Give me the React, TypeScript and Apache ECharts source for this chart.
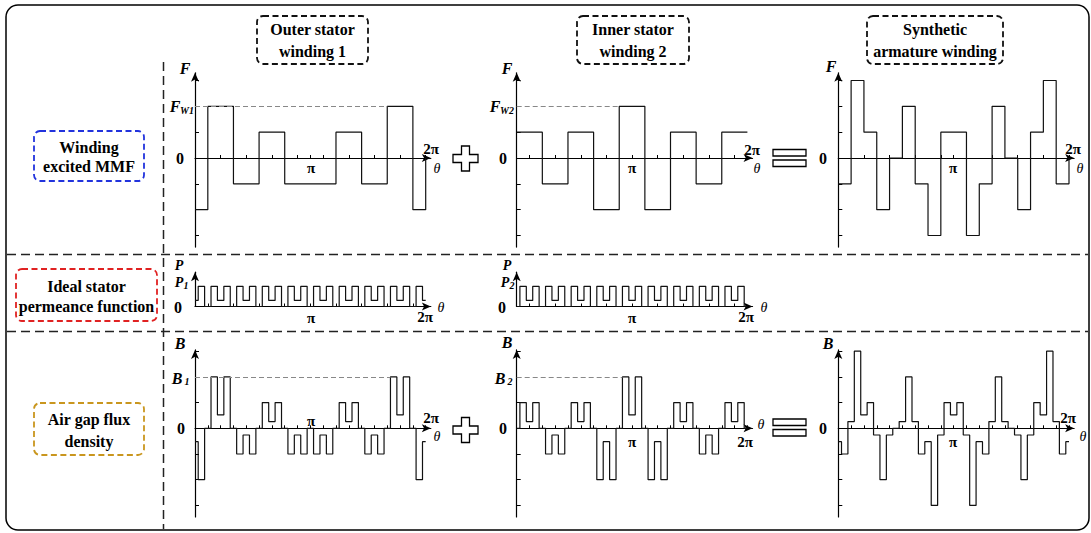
import React, { useEffect, useRef } from "react";
import * as echarts from "echarts";

// ---------- data (angles in degrees, levels in per-unit) ----------
const F1_EDGES = [0, 20, 60, 100, 140, 220, 260, 300, 340, 360];
const F1_LEVELS = [-2, 2, -1, 1, -1, 1, -1, 2, -2];
const F2_EDGES = [0, 40, 80, 120, 160, 200, 240, 280, 320, 360];
const F2_LEVELS = [1, -1, 1, -2, 2, -2, 1, -1, 1];
const F3_EDGES = [0, 20, 40, 60, 80, 100, 120, 140, 160, 200, 220, 240, 260, 280, 300, 320, 340, 360];
const F3_LEVELS = [-1, 3, 1, -2, 0, 2, -1, -3, 1, -3, -1, 2, 0, -2, 1, 3, -1];

const PIECE_EDGES = [0, 5, 15, 25, 35, 45, 55, 65, 75, 85, 95, 105, 115, 125, 135, 145, 155, 165, 175, 185, 195, 205, 215, 225, 235, 245, 255, 265, 275, 285, 295, 305, 315, 325, 335, 345, 355, 360];
const P1_LEVELS = [0.3, 1, 0, 1, 0.3, 1, 0, 1, 0.3, 1, 0, 1, 0.3, 1, 0, 1, 0.3, 1, 0, 1, 0.3, 1, 0, 1, 0.3, 1, 0, 1, 0.3, 1, 0, 1, 0.3, 1, 0, 1, 0.3];
const P2_LEVELS = [0, 1, 0.3, 1, 0, 1, 0.3, 1, 0, 1, 0.3, 1, 0, 1, 0.3, 1, 0, 1, 0.3, 1, 0, 1, 0.3, 1, 0, 1, 0.3, 1, 0, 1, 0.3, 1, 0, 1, 0.3, 1, 0];
const B1_LEVELS = [-0.52, -2, 0, 2, 0.52, 2, 0, -1, -0.26, -1, 0, 1, 0.26, 1, 0, -1, -0.26, -1, 0, -1, -0.26, -1, 0, 1, 0.26, 1, 0, -1, -0.26, -1, 0, 2, 0.52, 2, 0, -2, -0.52];
const B2_LEVELS = [0, 1, 0.26, 1, 0, -1, -0.26, -1, 0, 1, 0.26, 1, 0, -2, -0.52, -2, 0, 2, 0.52, 2, 0, -2, -0.52, -2, 0, 1, 0.26, 1, 0, -1, -0.26, -1, 0, 1, 0.26, 1, 0];
const B3_LEVELS = [-0.52, -1, 0.26, 3, 0.52, 1, -0.26, -2, -0.26, 0, 0.26, 2, 0.26, -1, -0.52, -3, -0.26, 1, 0.52, 1, -0.26, -3, -0.52, -1, 0.26, 2, 0.26, 0, -0.26, -2, -0.26, 1, 0.52, 3, 0.26, -1, -0.52];

// reference (dashed) lines: [level, end angle]
const REF_F1 = [2, 300];
const REF_F2 = [2, 160];
const REF_B1 = [2, 305];
const REF_B2 = [2, 165];

const TICKS_40 = [40, 80, 120, 160, 180, 200, 240, 280, 320, 360];
const TICKS_20_40 = [20, 60, 100, 140, 180, 220, 260, 300, 340];
const TICKS_20 = [20, 40, 60, 80, 100, 120, 140, 160, 180, 200, 220, 240, 260, 280, 300, 320, 340, 360];
const Y_TICKS = [-3, -2, -1, 1, 2, 3];

// ---------- layout ----------
const PX_PER_DEG = 230.7 / 360;
const X_MAX = 368;
const COLS = [195, 516.7, 838.3];
const ROW_F = { zero: 158, unit: 25.83, min: -3.45, max: 3.3 };
const ROW_P = { zero: 306.5, unit: 20.2, min: 0, max: 1.7 };
const ROW_B = { zero: 428.3, unit: 25.7, min: -3.45, max: 3.05 };

function steps(edges: number[], levels: number[], closeEnd = false) {
  const pts: number[][] = [];
  for (let i = 0; i < levels.length; i++) {
    pts.push([edges[i], levels[i]]);
    pts.push([edges[i + 1], levels[i]]);
  }
  if (closeEnd) pts.push([edges[edges.length - 1], 0]);
  return pts;
}

const SERIF = '"Liberation Serif", "Times New Roman", serif';

export default function App() {
  const ref = useRef<HTMLDivElement>(null);
  useEffect(() => {
    if (!ref.current) return;
    const chart = echarts.init(ref.current, undefined, { renderer: "svg" });

    const panels = [
      { col: 0, row: ROW_F, data: steps(F1_EDGES, F1_LEVELS, true), ticks: TICKS_40, yt: Y_TICKS, refl: REF_F1 },
      { col: 1, row: ROW_F, data: steps(F2_EDGES, F2_LEVELS), ticks: TICKS_20_40, yt: Y_TICKS, refl: REF_F2 },
      { col: 2, row: ROW_F, data: steps(F3_EDGES, F3_LEVELS, true), ticks: TICKS_40, yt: Y_TICKS, refl: null },
      { col: 0, row: ROW_P, data: steps(PIECE_EDGES, P1_LEVELS), ticks: TICKS_20_40, yt: [], refl: null },
      { col: 1, row: ROW_P, data: steps(PIECE_EDGES, P2_LEVELS), ticks: TICKS_20_40, yt: [], refl: null },
      { col: 0, row: ROW_B, data: steps(PIECE_EDGES, B1_LEVELS), ticks: TICKS_20, yt: Y_TICKS, refl: REF_B1 },
      { col: 1, row: ROW_B, data: steps(PIECE_EDGES, B2_LEVELS), ticks: TICKS_20, yt: Y_TICKS, refl: REF_B2 },
      { col: 2, row: ROW_B, data: steps(PIECE_EDGES, B3_LEVELS), ticks: TICKS_20, yt: Y_TICKS, refl: null },
    ];

    const grid: any[] = [];
    const xAxis: any[] = [];
    const yAxis: any[] = [];
    const series: any[] = [];
    panels.forEach((p, i) => {
      const r = p.row;
      grid.push({
        left: COLS[p.col],
        top: r.zero - r.max * r.unit,
        width: X_MAX * PX_PER_DEG,
        height: (r.max - r.min) * r.unit,
        containLabel: false,
      });
      xAxis.push({
        type: "value", gridIndex: i, min: 0, max: X_MAX,
        axisLine: { onZero: true, symbol: ["none", "arrow"], symbolSize: [6, 9], lineStyle: { color: "#000", width: 1.2 } },
        axisTick: { show: true, inside: true, length: 3, customValues: p.ticks, lineStyle: { color: "#000", width: 1 } },
        axisLabel: { show: false },
        splitLine: { show: false },
      });
      yAxis.push({
        type: "value", gridIndex: i, min: r.min, max: r.max,
        axisLine: { show: true, onZero: false, symbol: ["none", "arrow"], symbolSize: [6, 9], lineStyle: { color: "#000", width: 1.2 } },
        axisTick: { show: p.yt.length > 0, inside: true, length: 4, customValues: p.yt, lineStyle: { color: "#000", width: 1 } },
        axisLabel: { show: false },
        splitLine: { show: false },
      });
      const s: any = {
        type: "line", xAxisIndex: i, yAxisIndex: i, data: p.data,
        showSymbol: false, symbol: "none", silent: true,
        lineStyle: { color: "#111", width: 1.2 },
      };
      if (p.refl) {
        s.markLine = {
          silent: true, symbol: ["none", "none"], label: { show: false },
          lineStyle: { type: [5, 3], color: "#888", width: 1 },
          data: [[{ coord: [0, p.refl[0]] }, { coord: [p.refl[1], p.refl[0]] }]],
        };
      }
      series.push(s);
    });

    const g: any[] = [];
    const txt = (x: number, y: number, text: string, font: string, align = "center") =>
      g.push({ type: "text", x, y, z: 10, style: { text, font, fill: "#000", align, verticalAlign: "middle", textAlign: align, textVerticalAlign: "middle" } });
    const BI = `italic bold 16px ${SERIF}`;
    const BI14 = `italic bold 14px ${SERIF}`;
    const B = `bold 16px ${SERIF}`;
    const BP = `bold 15px ${SERIF}`;
    const SUB = `italic bold 10px ${SERIF}`;
    const TH = `italic 14px ${SERIF}`;

    // frame
    g.push({ type: "rect", shape: { x: 6, y: 5, width: 1083, height: 525, r: 12 }, style: { fill: "none", stroke: "#000", lineWidth: 1.5 } });
    const dash = { fill: "none", stroke: "#222", lineWidth: 1.5, lineDash: [9, 5] };
    g.push({ type: "line", shape: { x1: 7, y1: 254.5, x2: 1088, y2: 254.5 }, style: dash });
    g.push({ type: "line", shape: { x1: 7, y1: 331.5, x2: 1088, y2: 331.5 }, style: dash });
    g.push({ type: "line", shape: { x1: 163.5, y1: 62, x2: 163.5, y2: 529 }, style: dash });

    // header boxes
    const box = (x: number, y: number, w: number, h: number, color: string) =>
      g.push({ type: "rect", shape: { x, y, width: w, height: h, r: 6 }, style: { fill: "none", stroke: color, lineWidth: 1.8, lineDash: [6, 3.5] } });
    box(257, 16, 111, 48, "#111");
    txt(312.5, 29, "Outer stator", B); txt(312.5, 51, "winding 1", B);
    box(577, 16, 112, 48, "#111");
    txt(633, 29, "Inner stator", B); txt(633, 51, "winding 2", B);
    box(867, 16, 136, 48, "#111");
    txt(935, 29, "Synthetic", B); txt(935, 51, "armature winding", B);

    box(34, 131, 110, 50, "#2233dd");
    txt(89, 147, "Winding", B); txt(89, 166, "excited MMF", B);
    box(16, 269, 141, 52, "#e02222");
    txt(86.5, 286, "Ideal stator", B); txt(86.5, 306, "permeance function", B);
    box(34, 403, 110, 52, "#c9961e");
    txt(89, 419, "Air gap flux", B); txt(89, 441, "density", B);

    // F row labels
    txt(185, 68, "F", BI); txt(180, 158, "0", B);
    txt(175, 106, "F", BI); txt(187, 110, "W1", SUB);
    txt(311, 168, "π", BP); txt(431, 149, "2π", BP); txt(437, 168, "θ", TH);
    txt(507, 68, "F", BI); txt(503, 158, "0", B);
    txt(495, 106, "F", BI); txt(507, 110, "W2", SUB);
    txt(632, 168, "π", BP); txt(752, 150, "2π", BP); txt(757, 168, "θ", TH);
    txt(831, 66, "F", BI); txt(823, 158, "0", B);
    txt(953, 168, "π", BP); txt(1073, 149, "2π", BP); txt(1080, 168, "θ", TH);
    // P row labels
    txt(179, 265, "P", BI14); txt(179, 282, "P", BI14); txt(186, 285, "1", SUB); txt(178, 307, "0", B);
    txt(311, 318, "π", BP); txt(425, 317, "2π", BP); txt(441, 307, "θ", TH);
    txt(507, 265, "P", BI14); txt(505, 282, "P", BI14); txt(512, 285, "2", SUB); txt(502, 307, "0", B);
    txt(632, 318, "π", BP); txt(746, 317, "2π", BP); txt(764, 307, "θ", TH);
    // B row labels
    txt(180, 343, "B", BI); txt(177, 378, "B", BI); txt(187, 381, "1", SUB); txt(181, 428, "0", B);
    txt(311, 421, "π", BP); txt(431, 418, "2π", BP); txt(437, 436, "θ", TH);
    txt(507, 342, "B", BI); txt(500, 378, "B", BI); txt(510, 381, "2", SUB); txt(503, 428, "0", B);
    txt(632, 442, "π", BP); txt(745, 442, "2π", BP); txt(761, 424, "θ", TH);
    txt(828, 343, "B", BI); txt(823, 428, "0", B);
    txt(953, 442, "π", BP); txt(1068, 418, "2π", BP); txt(1083, 436, "θ", TH);

    // plus and equals symbols
    const plus = (cx: number, cy: number) => {
      const a = 4, L = 12.5;
      g.push({
        type: "polygon",
        shape: { points: [[cx - a, cy - L], [cx + a, cy - L], [cx + a, cy - a], [cx + L, cy - a], [cx + L, cy + a], [cx + a, cy + a], [cx + a, cy + L], [cx - a, cy + L], [cx - a, cy + a], [cx - L, cy + a], [cx - L, cy - a], [cx - a, cy - a]] },
        style: { fill: "#fff", stroke: "#000", lineWidth: 1.3 },
      });
    };
    const equals = (x: number, y: number) => {
      g.push({ type: "rect", shape: { x, y, width: 33, height: 6.5 }, style: { fill: "#fff", stroke: "#000", lineWidth: 1.3 } });
      g.push({ type: "rect", shape: { x, y: y + 10.5, width: 33, height: 6.5 }, style: { fill: "#fff", stroke: "#000", lineWidth: 1.3 } });
    };
    plus(465.5, 158.5); equals(773, 149.5);
    plus(465.5, 430); equals(773, 419);

    chart.setOption({
      animation: false,
      backgroundColor: "#fff",
      grid, xAxis, yAxis, series,
      graphic: { elements: g },
    });
    return () => chart.dispose();
  }, []);
  return <div ref={ref} style={{ position: "fixed", left: 0, top: 0, width: 1091, height: 533 }} />;
}
